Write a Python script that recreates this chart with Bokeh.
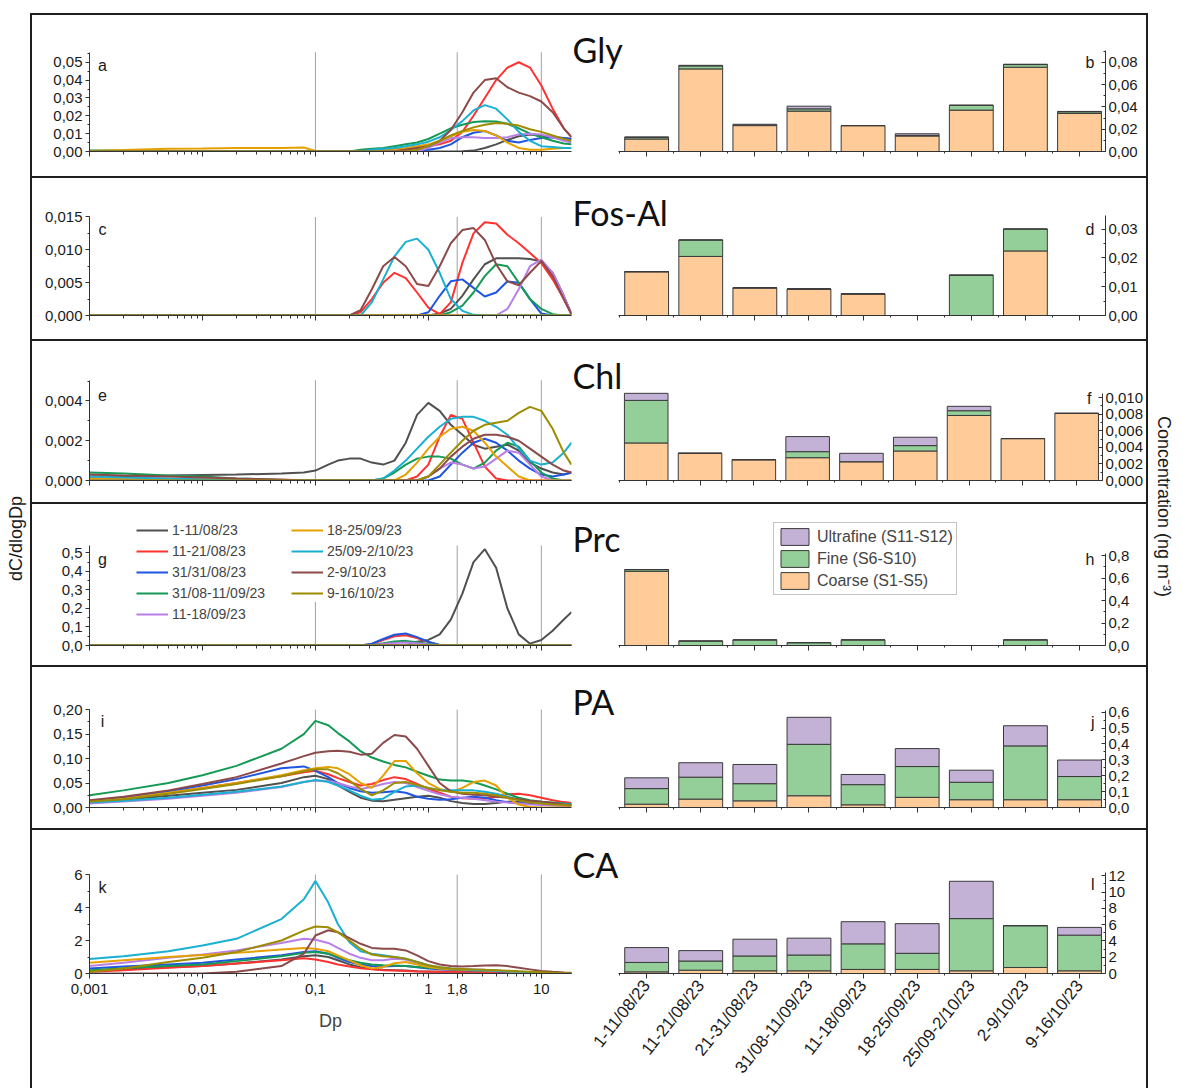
import math
from bokeh.plotting import figure
from bokeh.layouts import row, column
from bokeh.models import (Range1d, Label, Legend, LegendItem, FixedTicker,
                          SingleIntervalTicker, CustomJSTickFormatter, ColumnDataSource, Spacer)
from bokeh.embed import file_html
from bokeh.resources import INLINE

# ---------------- data ----------------
DP = [0.001, 0.002, 0.005, 0.01, 0.02, 0.05, 0.079, 0.1, 0.13, 0.158, 0.2, 0.251, 0.316, 0.398,
      0.501, 0.631, 0.794, 1.0, 1.26, 1.58, 2.0, 2.51, 3.16, 3.98, 5.01, 6.31, 7.94, 10.0, 12.6,
      15.8, 18.5]

SERIES = ["1-11/08/23", "11-21/08/23", "31/31/08/23", "31/08-11/09/23", "11-18/09/23",
          "18-25/09/23", "25/09-2/10/23", "2-9/10/23", "9-16/10/23"]
COLORS = ["#505050", "#FF3232", "#1F55E0", "#159A55", "#B97FE6", "#E6A000", "#19B0D2",
          "#8C4A4A", "#9E8C00"]

PERIODS = ["1-11/08/23", "11-21/08/23", "21-31/08/23", "31/08-11/09/23", "11-18/09/23",
           "18-25/09/23", "25/09-2/10/23", "2-9/10/23", "9-16/10/23"]

# size-cut boundaries marked by grey reference lines
VLINES = [0.1, 1.8, 10]

GLY = {
    "1-11/08/23": [0,0,0,0,0, 0,0,0,0,0, 0,0,0,0,0, 0,0,0,0,0, 0.0002,0.0005,0.002,0.004,0.0065, 0.0085,0.0095,0.009,0.008,0.0075, 0.007],
    "11-21/08/23": [0,0,0,0,0, 0,0,0,0,0, 0,0,0,0,0.0005, 0.001,0.002,0.003,0.004,0.006, 0.011,0.020,0.030,0.040,0.047, 0.050,0.047,0.037,0.024,0.013, 0.008],
    "31/31/08/23": [0,0,0,0,0, 0,0,0,0,0, 0,0,0,0,0, 0,0.0005,0.001,0.002,0.004, 0.008,0.0105,0.0115,0.009,0.006, 0.005,0.0065,0.0075,0.008,0.0075, 0.007],
    "31/08-11/09/23": [0.0005,0.0005,0.0003,0.0002,0.0001, 0,0,0,0,0, 0,0.001,0.0015,0.002,0.003, 0.004,0.005,0.007,0.010,0.013, 0.015,0.0165,0.017,0.0168,0.0155, 0.013,0.010,0.008,0.006,0.0045, 0.004],
    "11-18/09/23": [0,0,0,0,0, 0,0,0,0,0, 0,0,0,0,0, 0,0,0.002,0.005,0.0075, 0.008,0.008,0.0075,0.0075,0.008, 0.0095,0.010,0.0095,0.008,0.006, 0.005],
    "18-25/09/23": [0.0003,0.0008,0.0015,0.0017,0.002, 0.002,0.0022,0.0003,0,0, 0,0,0.0005,0.001,0.0015, 0.002,0.003,0.004,0.006,0.0085, 0.011,0.012,0.0115,0.009,0.005, 0.002,0.001,0.001,0.0015,0.002, 0.002],
    "25/09-2/10/23": [0,0,0,0,0, 0,0,0,0,0, 0,0,0.001,0.0015,0.002, 0.003,0.004,0.0055,0.008,0.012, 0.017,0.023,0.026,0.024,0.018, 0.011,0.006,0.003,0.0025,0.002, 0.002],
    "2-9/10/23": [0,0,0,0,0, 0,0,0,0,0, 0,0,0,0,0, 0.001,0.002,0.003,0.006,0.012, 0.022,0.033,0.040,0.041,0.036, 0.033,0.031,0.028,0.022,0.013, 0.008],
    "9-16/10/23": [0,0,0,0,0, 0,0,0,0,0, 0,0,0,0,0, 0,0.001,0.003,0.006,0.009, 0.0115,0.0135,0.015,0.016,0.0155, 0.0145,0.0125,0.011,0.009,0.007, 0.006],
}

FOS = {
    "1-11/08/23": [0,0,0,0,0, 0,0,0,0,0, 0,0,0,0,0, 0,0,0,0.0003,0.001, 0.003,0.0055,0.0078,0.0087,0.0087, 0.0087,0.0086,0.0082,0.0065,0.003, 0.0002],
    "11-21/08/23": [0,0,0,0,0, 0,0,0,0,0, 0,0.0005,0.0025,0.005,0.0065, 0.0057,0.0035,0.0012,0.0002,0.002, 0.008,0.0125,0.0142,0.014,0.0123, 0.011,0.0095,0.008,0.0055,0.0025, 0.0002],
    "31/31/08/23": [0,0,0,0,0, 0,0,0,0,0, 0,0,0,0,0, 0,0,0.0005,0.003,0.0052, 0.0055,0.0042,0.0029,0.0035,0.0052, 0.005,0.0025,0.0003,0,0, 0],
    "31/08-11/09/23": [0,0,0,0,0, 0,0,0,0,0, 0,0,0,0,0, 0,0,0,0,0.0005, 0.0015,0.0035,0.006,0.0078,0.0075, 0.005,0.0025,0.001,0.0002,0, 0],
    "11-18/09/23": [0,0,0,0,0, 0,0,0,0,0, 0,0,0,0,0, 0,0,0,0,0, 0,0,0,0,0.001, 0.004,0.0075,0.0085,0.0065,0.003, 0.0002],
    "18-25/09/23": [0,0,0,0,0, 0,0,0,0,0, 0,0,0,0,0, 0,0,0,0,0, 0,0,0,0,0, 0,0,0,0,0, 0],
    "25/09-2/10/23": [0,0,0,0,0, 0,0,0,0,0, 0,0,0.002,0.0055,0.009, 0.0112,0.0117,0.010,0.0065,0.0025, 0.0007,0.0001,0,0,0, 0,0,0,0,0, 0],
    "2-9/10/23": [0,0,0,0,0, 0,0,0,0,0, 0,0.0008,0.004,0.0075,0.0089, 0.0075,0.0048,0.0045,0.0075,0.011, 0.013,0.0133,0.0115,0.0078,0.0052, 0.0046,0.0065,0.0083,0.006,0.0025, 0.0002],
    "9-16/10/23": [0,0,0,0,0, 0,0,0,0,0, 0,0,0,0,0, 0,0,0,0,0, 0,0,0,0,0, 0,0,0,0,0, 0],
}

CHL = {
    "1-11/08/23": [0.0002,0.00022,0.00025,0.00028,0.0003, 0.00035,0.0004,0.0005,0.0008,0.001, 0.0011,0.0011,0.0009,0.0008,0.001, 0.0019,0.0033,0.0039,0.0035,0.0028, 0.0023,0.0018,0.0016,0.0017,0.0018, 0.0015,0.0009,0.0006,0.0004,0.0003, 0.0004],
    "11-21/08/23": [0,0,0,0,0, 0,0,0,0,0, 0,0,0,0,0, 0,0.0002,0.0008,0.0022,0.0033, 0.0031,0.0019,0.0007,0.0001,0, 0,0,0,0,0, 0],
    "31/31/08/23": [0.0001,0.0001,0.00008,0.00005,0, 0,0,0,0,0, 0,0,0,0,0, 0,0,0,0.0002,0.0008, 0.0014,0.0019,0.0021,0.0019,0.0015, 0.001,0.0006,0.0003,0.0002,0.0003, 0.0004],
    "31/08-11/09/23": [0.0004,0.00035,0.00025,0.0002,0.0001, 0.00003,0,0,0,0, 0,0,0,0.0001,0.0004, 0.0008,0.0011,0.0012,0.0012,0.0011, 0.0008,0.0006,0.0009,0.0015,0.0019, 0.0017,0.001,0.0004,0.0001,0, 0],
    "11-18/09/23": [0,0,0,0,0, 0,0,0,0,0, 0,0,0,0,0, 0,0,0.0002,0.0006,0.0009, 0.0008,0.0006,0.0007,0.0011,0.0015, 0.0014,0.0008,0.0002,0,0, 0],
    "18-25/09/23": [0.0001,0.0001,0.00008,0.00005,0, 0,0,0,0,0, 0,0,0,0,0, 0.0003,0.0009,0.0016,0.0022,0.0026, 0.0027,0.0025,0.0019,0.0012,0.0007, 0.0002,0,0,0,0, 0],
    "25/09-2/10/23": [0.0002,0.00015,0.0001,0.00005,0, 0,0,0,0,0, 0,0,0,0.0001,0.0005, 0.001,0.0016,0.0022,0.0027,0.0031, 0.0032,0.0032,0.003,0.0027,0.0023, 0.0016,0.001,0.0008,0.0009,0.0014, 0.0019],
    "2-9/10/23": [0.0003,0.00025,0.0002,0.00015,0.0001, 0.00005,0,0,0,0, 0,0,0,0,0, 0,0,0.0002,0.0006,0.0012, 0.0017,0.0021,0.0023,0.0023,0.0022, 0.002,0.0016,0.0012,0.0008,0.0005, 0.0004],
    "9-16/10/23": [0,0,0,0,0, 0,0,0,0,0, 0,0,0,0,0, 0,0,0.0002,0.0008,0.0014, 0.002,0.0025,0.0028,0.0029,0.003, 0.0034,0.0037,0.0035,0.0026,0.0014, 0.0008],
}

PRC = {
    "1-11/08/23": [0,0,0,0,0, 0,0,0,0,0, 0,0,0,0,0, 0,0.02,0.03,0.06,0.14, 0.28,0.45,0.52,0.42,0.2, 0.06,0.01,0.03,0.08,0.14, 0.18],
    "11-21/08/23": [0,0,0,0,0, 0,0,0,0,0, 0,0,0.008,0.03,0.05, 0.055,0.04,0.018,0.003,0, 0,0,0,0,0, 0,0,0,0,0, 0],
    "31/31/08/23": [0,0,0,0,0, 0,0,0,0,0, 0,0,0.01,0.035,0.058, 0.065,0.045,0.02,0.003,0, 0,0,0,0,0, 0,0,0,0,0, 0],
    "31/08-11/09/23": [0,0,0,0,0, 0,0,0,0,0, 0,0,0.003,0.012,0.022, 0.025,0.018,0.008,0.001,0, 0,0,0,0,0, 0,0,0,0,0, 0],
    "11-18/09/23": [0,0,0,0,0, 0,0,0,0,0, 0,0,0.002,0.008,0.014, 0.016,0.012,0.005,0.001,0, 0,0,0,0,0, 0,0,0,0,0, 0],
    "18-25/09/23": [0,0,0,0,0, 0,0,0,0,0, 0,0,0,0,0, 0,0,0,0,0, 0,0,0,0,0, 0,0,0,0,0, 0],
    "25/09-2/10/23": [0,0,0,0,0, 0,0,0,0,0, 0,0,0,0,0, 0,0,0,0,0, 0,0,0,0,0, 0,0,0,0,0, 0],
    "2-9/10/23": [0,0,0,0,0, 0,0,0,0,0, 0,0,0,0,0, 0,0,0,0,0, 0,0,0,0,0, 0,0,0,0,0, 0],
    "9-16/10/23": [0,0,0,0,0, 0,0,0,0,0, 0,0,0,0,0, 0,0,0,0,0, 0,0,0,0,0, 0,0,0,0,0, 0],
}

PA = {
    "1-11/08/23": [0.012,0.016,0.024,0.03,0.036, 0.05,0.062,0.065,0.058,0.045, 0.032,0.02,0.014,0.013,0.016, 0.019,0.022,0.024,0.02,0.013, 0.009,0.007,0.007,0.009,0.012, 0.012,0.011,0.01,0.008,0.006, 0.005],
    "11-21/08/23": [0.012,0.018,0.03,0.04,0.05, 0.064,0.072,0.075,0.068,0.06, 0.052,0.045,0.048,0.056,0.062, 0.058,0.048,0.038,0.03,0.022, 0.019,0.018,0.018,0.022,0.027, 0.028,0.025,0.02,0.015,0.011, 0.009],
    "31/31/08/23": [0.012,0.02,0.033,0.045,0.058, 0.08,0.084,0.075,0.062,0.05, 0.04,0.033,0.03,0.031,0.033, 0.03,0.022,0.018,0.016,0.017, 0.02,0.022,0.02,0.015,0.011, 0.009,0.008,0.007,0.006,0.006, 0.006],
    "31/08-11/09/23": [0.025,0.035,0.05,0.066,0.085, 0.12,0.15,0.177,0.168,0.152, 0.135,0.115,0.102,0.094,0.087, 0.082,0.073,0.065,0.057,0.055, 0.055,0.052,0.045,0.037,0.028, 0.02,0.015,0.012,0.01,0.008, 0.007],
    "11-18/09/23": [0.008,0.012,0.018,0.024,0.03, 0.042,0.052,0.055,0.054,0.05, 0.043,0.038,0.042,0.048,0.052, 0.05,0.042,0.034,0.027,0.022, 0.02,0.018,0.015,0.012,0.01, 0.008,0.006,0.005,0.004,0.003, 0.003],
    "18-25/09/23": [0.012,0.018,0.03,0.04,0.05, 0.066,0.076,0.08,0.083,0.08, 0.068,0.05,0.04,0.065,0.095, 0.095,0.07,0.05,0.038,0.032, 0.04,0.052,0.055,0.045,0.02, 0.006,0.001,0,0,0, 0],
    "25/09-2/10/23": [0.01,0.014,0.02,0.026,0.032, 0.043,0.052,0.056,0.052,0.045, 0.035,0.024,0.016,0.018,0.032, 0.043,0.045,0.04,0.036,0.035, 0.035,0.035,0.032,0.028,0.022, 0.016,0.012,0.01,0.008,0.007, 0.006],
    "2-9/10/23": [0.015,0.022,0.035,0.048,0.062, 0.09,0.105,0.112,0.115,0.116, 0.114,0.108,0.11,0.132,0.148, 0.145,0.12,0.085,0.05,0.033, 0.028,0.026,0.025,0.022,0.02, 0.017,0.014,0.012,0.009,0.006, 0.005],
    "9-16/10/23": [0.012,0.017,0.028,0.038,0.048, 0.064,0.074,0.078,0.078,0.07, 0.055,0.038,0.025,0.035,0.05, 0.052,0.046,0.04,0.035,0.032, 0.03,0.03,0.028,0.025,0.02, 0.015,0.01,0.008,0.006,0.005, 0.004],
}

CA = {
    "1-11/08/23": [0.15,0.25,0.38,0.45,0.6, 0.85,1.05,1.1,1.0,0.8, 0.55,0.38,0.28,0.22,0.2, 0.18,0.14,0.12,0.1,0.1, 0.1,0.1,0.1,0.09,0.08, 0.07,0.05,0.04,0.02,0.01, 0.01],
    "11-21/08/23": [0.1,0.2,0.35,0.45,0.6, 0.8,0.92,0.85,0.7,0.55, 0.42,0.32,0.25,0.2,0.18, 0.15,0.12,0.1,0.1,0.1, 0.1,0.1,0.09,0.08,0.07, 0.06,0.05,0.04,0.02,0.01, 0.01],
    "31/31/08/23": [0.3,0.42,0.55,0.65,0.85, 1.1,1.3,1.35,1.2,0.95, 0.7,0.55,0.45,0.42,0.45, 0.45,0.38,0.3,0.25,0.22, 0.2,0.18,0.16,0.14,0.12, 0.1,0.07,0.05,0.03,0.02, 0.01],
    "31/08-11/09/23": [0.2,0.32,0.45,0.55,0.75, 1.05,1.25,1.3,1.2,1.0, 0.8,0.65,0.55,0.5,0.48, 0.45,0.4,0.35,0.3,0.26, 0.23,0.2,0.18,0.15,0.13, 0.1,0.08,0.06,0.04,0.02, 0.01],
    "11-18/09/23": [0.45,0.65,0.95,1.15,1.4, 1.85,2.1,2.05,1.85,1.55, 1.2,0.95,0.8,0.8,0.9, 0.85,0.65,0.45,0.35,0.3, 0.28,0.25,0.22,0.18,0.14, 0.1,0.07,0.05,0.03,0.02, 0.01],
    "18-25/09/23": [0.65,0.8,1.0,1.12,1.25, 1.45,1.55,1.5,1.35,1.1, 0.8,0.5,0.3,0.4,0.62, 0.7,0.55,0.4,0.3,0.25, 0.22,0.2,0.18,0.16,0.13, 0.1,0.07,0.05,0.03,0.02, 0.01],
    "25/09-2/10/23": [0.88,1.05,1.35,1.7,2.1, 3.3,4.5,5.6,4.3,3.0, 1.9,1.35,1.2,1.1,1.0, 0.9,0.7,0.5,0.38,0.3, 0.25,0.22,0.2,0.17,0.14, 0.1,0.07,0.05,0.03,0.02, 0.01],
    "2-9/10/23": [0,0,0,0,0.1, 0.45,1.2,2.3,2.62,2.5, 2.15,1.8,1.55,1.5,1.5, 1.4,1.1,0.75,0.55,0.45, 0.43,0.45,0.48,0.5,0.45, 0.35,0.25,0.15,0.1,0.06, 0.04],
    "9-16/10/23": [0.1,0.3,0.7,0.95,1.3, 2.0,2.6,2.85,2.8,2.5, 2.0,1.5,1.15,1.05,1.0, 0.9,0.7,0.5,0.38,0.3, 0.28,0.25,0.22,0.2,0.17, 0.13,0.1,0.07,0.04,0.02, 0.01],
}

GLY_COARSE = [0.0112, 0.0740, 0.0232, 0.0362, 0.0232, 0.0139, 0.0371, 0.0755, 0.0341]
GLY_FINE = [0.0015, 0.0027, 0.0004, 0.0020, 0.0, 0.0005, 0.0042, 0.0024, 0.0015]
GLY_ULTRA = [0.0003, 0.0005, 0.0008, 0.0024, 0.0, 0.0015, 0.0003, 0.0003, 0.0003]

FOS_COARSE = [0.0152, 0.0205, 0.0096, 0.0092, 0.0075, 0.0, 0.0, 0.0224, 0.0]
FOS_FINE = [0.0, 0.0057, 0.0, 0.0, 0.0, 0.0, 0.0140, 0.0076, 0.0]
FOS_ULTRA = [0.0, 0.0, 0.0, 0.0, 0.0, 0.0, 0.0, 0.0, 0.0]

CHL_COARSE = [0.00453, 0.00328, 0.00251, 0.00275, 0.00227, 0.00356, 0.00785, 0.00506, 0.0081]
CHL_FINE = [0.00514, 0.0, 0.0, 0.00073, 0.0, 0.00065, 0.00057, 0.0, 0.0]
CHL_ULTRA = [0.00085, 0.0, 0.0, 0.00182, 0.00101, 0.00101, 0.00053, 0.0, 0.0]

PRC_COARSE = [0.66, 0.0, 0.0, 0.0, 0.0, 0.0, 0.0, 0.0, 0.0]
PRC_FINE = [0.015, 0.04, 0.05, 0.025, 0.05, 0.0, 0.0, 0.05, 0.0]
PRC_ULTRA = [0.0, 0.0, 0.0, 0.0, 0.0, 0.0, 0.0, 0.0, 0.0]

PA_COARSE = [0.021, 0.053, 0.042, 0.074, 0.017, 0.064, 0.049, 0.049, 0.049]
PA_FINE = [0.098, 0.138, 0.108, 0.324, 0.127, 0.194, 0.110, 0.339, 0.146]
PA_ULTRA = [0.068, 0.091, 0.121, 0.170, 0.064, 0.113, 0.076, 0.127, 0.104]

CA_COARSE = [0.2, 0.41, 0.33, 0.33, 0.5, 0.5, 0.33, 0.74, 0.33]
CA_FINE = [1.16, 1.12, 1.82, 1.94, 3.14, 1.98, 6.41, 5.13, 4.38]
CA_ULTRA = [1.82, 1.28, 2.06, 2.07, 2.72, 3.64, 4.58, 0.0, 0.95]

TITLES = ["Gly", "Fos-Al", "Chl", "Prc", "PA", "CA"]
LINES = [GLY, FOS, CHL, PRC, PA, CA]
COARSE = [GLY_COARSE, FOS_COARSE, CHL_COARSE, PRC_COARSE, PA_COARSE, CA_COARSE]
FINE = [GLY_FINE, FOS_FINE, CHL_FINE, PRC_FINE, PA_FINE, CA_FINE]
ULTRA = [GLY_ULTRA, FOS_ULTRA, CHL_ULTRA, PRC_ULTRA, PA_ULTRA, CA_ULTRA]
LETTERS_L = ["a", "c", "e", "g", "i", "k"]
LETTERS_R = ["b", "d", "f", "h", "j", "l"]
FRACTIONS = ["Coarse (S1-S5)", "Fine (S6-S10)", "Ultrafine (S11-S12)"]
FRAC_COLORS = ["#FFCC99", "#94CE98", "#C3B1D6"]

# ---------------- layout / style ----------------
FONT = "Liberation Sans"
AX = "#333333"
BORDER = {"background-color": "#1e1e1e"}
LAB_L_W, LAB_R_W = 30, 32
W_LEFT, W_BAR = 540, 574          # left canvas 32..572, bar canvas 572..1146
CANVAS_L0, CANVAS_B0 = 32, 572
BOX_W = 2 + W_LEFT + W_BAR + 2
TOP_PAD = 13
ROW_TOP = [13, 176, 339, 502, 665, 828]
ROW_H = [161, 161, 161, 161, 161, 258]
LEFT_FRAME = [(52, 152), (217, 317), (380, 481), (545, 645), (710, 810), (874, 973)]
BAR_FRAME = [(50, 151), (215, 315), (393, 480), (553, 645), (710, 807), (872, 973)]
LEFT_YMAX = [0.0556, 0.015, 0.00504, 0.54, 0.20, 6.0]
BAR_YMAX = [0.0905, 0.0347, 0.0105, 0.818, 0.611, 12.4]
LEFT_STEP = [0.01, 0.005, 0.002, 0.1, 0.05, 2]
BAR_STEP = [0.02, 0.01, 0.002, 0.2, 0.1, 2]
LEFT_DEC = [2, 3, 3, 1, 2, 0]
BAR_DEC = [2, 2, 3, 1, 1, 0]
LET_L_Y = [65, 230, 395, 559, 722, 887]
LET_R_Y = [62, 229, 398, 559, 722, 884]
TITLE_Y = [49, 212, 375, 538, 701, 864]

X0, X1 = 0.001, 18.5
LF_X0, LF_X1 = 89, 571
BF_X0, BF_X1 = 618, 1105
BX0, BX1 = -0.52, 8.48


def num_fmt(d):
    return CustomJSTickFormatter(args=dict(d=d), code="return tick.toFixed(d).replace('.', ',');")


def style_axis(ax):
    ax.axis_line_color = AX
    ax.axis_line_width = 1
    ax.major_tick_line_color = AX
    ax.minor_tick_line_color = AX
    ax.major_label_text_font = FONT
    ax.major_label_text_font_size = "15px"
    ax.major_label_text_color = "#1a1a1a"


def page_to_y(yp, frame, ymax):
    ft, fb = frame
    return ymax * (fb - yp) / (fb - ft)


majors = [0.001, 0.01, 0.1, 1, 10]
minors = []
for e in range(-3, 2):
    for k in range(2, 10):
        v = round(k * 10.0 ** e, 6)
        if v <= X1:
            minors.append(v)

blocks = [Spacer(width=BOX_W, height=TOP_PAD)]
for i in range(6):
    ctop = ROW_TOP[i] + 2
    ch = ROW_H[i]
    last = (i == 5)

    # ---- left line chart (frame reaches the row top so nothing is clipped) ----
    ft, fb = LEFT_FRAME[i]
    ytop = LEFT_YMAX[i] * (fb - ctop) / (fb - ft)
    fl = figure(width=W_LEFT, height=ch, x_axis_type="log", x_range=Range1d(X0, X1),
                y_range=Range1d(0, ytop), output_backend="svg", toolbar_location=None,
                title=None, min_border_left=LF_X0 - CANVAS_L0,
                min_border_right=CANVAS_L0 + W_LEFT - LF_X1,
                min_border_top=0, min_border_bottom=ctop + ch - fb)
    fl.grid.visible = False
    fl.outline_line_color = None
    fl.background_fill_color = "white"
    fl.border_fill_color = "white"
    xa = fl.xaxis[0]
    style_axis(xa)
    xa.ticker = FixedTicker(ticks=majors + ([1.8] if last else []), minor_ticks=minors)
    xa.formatter = CustomJSTickFormatter(args=dict(show=last),
                                         code="if (!show) return ''; return String(tick).replace('.', ',');")
    xa.major_tick_out = 5
    xa.major_tick_in = 0
    xa.minor_tick_out = 3
    xa.minor_tick_in = 0
    xa.major_label_standoff = 5
    if last:
        xa.axis_label = "Dp"
        xa.axis_label_text_font = FONT
        xa.axis_label_text_font_size = "18px"
        xa.axis_label_text_font_style = "normal"
        xa.axis_label_standoff = 14
    ya = fl.yaxis[0]
    style_axis(ya)
    ya.bounds = (0, LEFT_YMAX[i])
    ya.ticker = SingleIntervalTicker(interval=LEFT_STEP[i], num_minor_ticks=2)
    ya.formatter = num_fmt(LEFT_DEC[i])
    ya.major_tick_out = 4
    ya.major_tick_in = 0
    ya.minor_tick_out = 2
    ya.minor_tick_in = 0
    ya.major_label_standoff = 3

    fl.segment(x0=VLINES, y0=[0] * len(VLINES), x1=VLINES, y1=[LEFT_YMAX[i]] * len(VLINES),
               line_color="#a0a0a0", line_width=1)

    rends = []
    for k, name in enumerate(SERIES):
        r = fl.line(DP, LINES[i][name], line_color=COLORS[k], line_width=2)
        rends.append(r)

    lx = 10 ** (math.log10(X0) + (102 - LF_X0) * math.log10(X1 / X0) / (LF_X1 - LF_X0))
    fl.add_layout(Label(x=lx, y=page_to_y(LET_L_Y[i], LEFT_FRAME[i], LEFT_YMAX[i]),
                        text=LETTERS_L[i], text_font=FONT, text_font_size="16px",
                        text_align="center", text_baseline="middle", text_color="#1a1a1a"))

    if i == 3:
        common = dict(glyph_width=32, glyph_height=18, label_height=18, spacing=3, padding=0,
                      margin=0, label_standoff=4, border_line_color=None,
                      background_fill_color="white", background_fill_alpha=1.0,
                      label_text_font=FONT, label_text_font_size="14px")
        leg1 = Legend(items=[LegendItem(label=SERIES[k], renderers=[rends[k]]) for k in range(5)],
                      location=(47, 22), **common)
        leg2 = Legend(items=[LegendItem(label=SERIES[k], renderers=[rends[k]]) for k in range(5, 9)],
                      location=(202, 43), **common)
        fl.add_layout(leg1, "center")
        fl.add_layout(leg2, "center")

    # ---- right bar chart (frame starts at canvas left/top so the title fits) ----
    ft, fb = BAR_FRAME[i]
    upx = (BX1 - BX0) / (BF_X1 - BF_X0)
    xstart = BX0 - (BF_X0 - CANVAS_B0) * upx
    btop = BAR_YMAX[i] * (fb - ctop) / (fb - ft)
    fbar = figure(width=W_BAR, height=ch, x_range=Range1d(xstart, BX1),
                  y_range=Range1d(0, btop), y_axis_location="right",
                  output_backend="svg", toolbar_location=None, title=None,
                  min_border_left=0, min_border_right=CANVAS_B0 + W_BAR - BF_X1,
                  min_border_top=0, min_border_bottom=ctop + ch - fb)
    fbar.grid.visible = False
    fbar.outline_line_color = None
    fbar.background_fill_color = "white"
    fbar.border_fill_color = "white"
    src = ColumnDataSource(dict(x=list(range(len(PERIODS))), c=COARSE[i], f=FINE[i], u=ULTRA[i]))
    brs = fbar.vbar_stack(["c", "f", "u"], x="x", width=0.81, source=src,
                          fill_color=FRAC_COLORS, line_color="#3a3a3a", line_width=1)
    bx = fbar.xaxis[0]
    style_axis(bx)
    bx.bounds = (BX0, BX1)
    bx.ticker = FixedTicker(ticks=list(range(9)), minor_ticks=[k - 0.5 for k in range(10)])
    bx.formatter = CustomJSTickFormatter(args=dict(labels=PERIODS, show=last),
                                         code="if (!show) return ''; return labels[Math.round(tick)] || '';")
    bx.major_tick_out = 5
    bx.major_tick_in = 0
    bx.minor_tick_out = 2
    bx.minor_tick_in = 0
    bx.major_label_standoff = 4
    if last:
        bx.major_label_orientation = 0.9
        bx.major_label_text_font_size = "17px"
    by = fbar.yaxis[0]
    style_axis(by)
    by.bounds = (0, BAR_YMAX[i])
    by.ticker = SingleIntervalTicker(interval=BAR_STEP[i], num_minor_ticks=2)
    by.formatter = num_fmt(BAR_DEC[i])
    by.major_tick_out = 0
    by.major_tick_in = 4
    by.minor_tick_out = 0
    by.minor_tick_in = 2
    by.major_label_standoff = 3

    fbar.add_layout(Label(x=BX0 + (1094 - BF_X0) * upx,
                          y=page_to_y(LET_R_Y[i], BAR_FRAME[i], BAR_YMAX[i]),
                          text=LETTERS_R[i], text_font=FONT, text_font_size="16px",
                          text_align="right", text_baseline="middle", text_color="#1a1a1a"))
    fbar.add_layout(Label(x=BX0 + (572 - BF_X0) * upx,
                          y=page_to_y(TITLE_Y[i], BAR_FRAME[i], BAR_YMAX[i]),
                          text=TITLES[i], text_font="Lato", text_font_size="34px",
                          text_align="left", text_baseline="middle", text_color="#111111"))
    if i == 3:
        bleg = Legend(items=[LegendItem(label=FRACTIONS[2], renderers=[brs[2]]),
                             LegendItem(label=FRACTIONS[1], renderers=[brs[1]]),
                             LegendItem(label=FRACTIONS[0], renderers=[brs[0]])],
                      location=(773 - CANVAS_B0, 50), glyph_width=35, glyph_height=21,
                      label_height=21, spacing=1, padding=3, margin=0, label_standoff=5,
                      border_line_color="#888888", border_line_width=1,
                      background_fill_color="white", background_fill_alpha=1.0,
                      label_text_font=FONT, label_text_font_size="16px")
        fbar.add_layout(bleg, "center")

    blocks.append(Spacer(width=BOX_W, height=2, styles=BORDER))
    blocks.append(row(Spacer(width=2, height=ch, styles=BORDER), fl, fbar,
                      Spacer(width=2, height=ch, styles=BORDER)))

center = column(*blocks)
TOTAL_H = TOP_PAD + 12 + sum(ROW_H)

lab_l = figure(width=LAB_L_W, height=TOTAL_H, x_range=Range1d(0, 1), y_range=Range1d(0, 1),
               x_axis_type=None, y_axis_type=None, output_backend="svg", toolbar_location=None,
               title=None, min_border=0, min_border_left=0, min_border_right=0,
               min_border_top=0, min_border_bottom=0)
lab_l.outline_line_color = None
lab_l.grid.visible = False
lab_l.add_layout(Label(x=15 / LAB_L_W, y=1 - 538 / TOTAL_H, text="dC/dlogDp",
                       angle=math.pi / 2, text_align="center", text_baseline="middle",
                       text_font=FONT, text_font_size="18px", text_color="#1a1a1a"))

lab_r = figure(width=LAB_R_W, height=TOTAL_H, x_range=Range1d(0, 1), y_range=Range1d(0, 1),
               x_axis_type=None, y_axis_type=None, output_backend="svg", toolbar_location=None,
               title=None, min_border=0, min_border_left=0, min_border_right=0,
               min_border_top=0, min_border_bottom=0)
lab_r.outline_line_color = None
lab_r.grid.visible = False
lab_r.add_layout(Label(x=(1163 - 1148) / LAB_R_W, y=1 - 506 / TOTAL_H,
                       text="Concentration (ng m\u207b\u00b3)", angle=-math.pi / 2,
                       text_align="center", text_baseline="middle",
                       text_font=FONT, text_font_size="18px", text_color="#1a1a1a"))

page = row(lab_l, center, lab_r)
open("out.html", "w").write(file_html(page, INLINE))
